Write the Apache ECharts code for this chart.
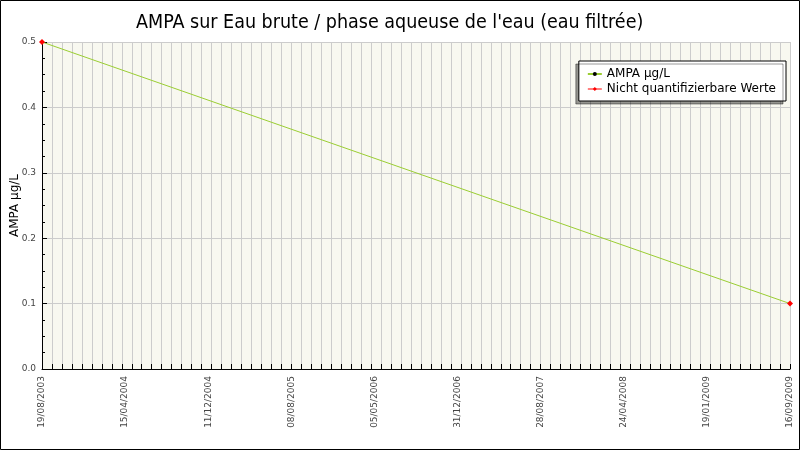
<!DOCTYPE html>
<html>
<head>
<meta charset="utf-8">
<script src="https://cdn.jsdelivr.net/npm/echarts@6/dist/echarts.min.js"></script>
<style>
html,body{margin:0;padding:0;background:#fff;}
#chart{width:800px;height:450px;}
</style>
</head>
<body>
<div id="chart"></div>
<script>
// ---- data ----
const titleText = "AMPA sur Eau brute / phase aqueuse de l'eau (eau filtrée)";
const yAxisName = "AMPA µg/L";
const seriesNames = ["AMPA µg/L", "Nicht quantifizierbare Werte"];
const sampleDates = ["2003-08-19", "2009-09-16"];
const ampaValues = [0.5, 0.1];
const nonQuantDates = ["2003-08-19", "2009-09-16"];
const nonQuantValues = [0.5, 0.1];
const xTickLabels = ["19/08/2003","15/04/2004","11/12/2004","08/08/2005","05/05/2006","31/12/2006","28/08/2007","24/04/2008","19/01/2009","16/09/2009"];
const yTicks = [0, 0.1, 0.2, 0.3, 0.4, 0.5];

// ---- build ----
const DAY = 86400000;
const t0 = Date.parse(sampleDates[0] + "T00:00:00Z");
const toDay = d => Math.round((Date.parse(d + "T00:00:00Z") - t0) / DAY);
const spanDays = toDay(sampleDates[sampleDates.length - 1]);
const labelStep = spanDays / (xTickLabels.length - 1);
const minorStep = spanDays / 75;

const ampaData = sampleDates.map((d, i) => [toDay(d), ampaValues[i]]);
const nqData = nonQuantDates.map((d, i) => [toDay(d), nonQuantValues[i]]);

const font = "DejaVu Sans";
const chart = echarts.init(document.getElementById('chart'));
chart.setOption({
  animation: false,
  backgroundColor: '#ffffff',
  title: {
    text: titleText, left: 131, top: 8,
    textStyle: { fontFamily: "DejaVu Sans Condensed", fontSize: 19.5, fontWeight: 'normal', color: '#000' }
  },
  legend: {
    orient: 'vertical', right: 14, top: 61,
    backgroundColor: '#ffffff', borderColor: '#000', borderWidth: 1,
    shadowColor: 'rgba(0,0,0,0.4)', shadowOffsetX: -3, shadowOffsetY: 3, shadowBlur: 0,
    padding: [7, 10, 6, 8], itemGap: 3, itemWidth: 14, itemHeight: 5,
    textStyle: { fontFamily: font, fontSize: 12, color: '#000' },
    data: [
      { name: seriesNames[0] },
      { name: seriesNames[1], lineStyle: { color: '#ff0000', opacity: 1, width: 1 } }
    ]
  },
  grid: {
    left: 42, right: 10, top: 42, bottom: 81,
    containLabel: false, outerBoundsMode: 'none',
    show: true, backgroundColor: '#f8f8f0', borderWidth: 0
  },
  xAxis: [
    {
      type: 'value', min: 0, max: spanDays, interval: labelStep,
      axisLine: { show: true, lineStyle: { color: '#000' } },
      axisTick: { show: false },
      splitLine: { show: false },
      axisLabel: {
        rotate: 90, fontFamily: font, fontSize: 9, color: '#444', margin: 7,
        formatter: v => { const i = Math.round(v / labelStep); return xTickLabels[i] || ''; }
      }
    },
    {
      type: 'value', min: 0, max: spanDays, interval: minorStep, position: 'bottom',
      axisLine: { show: false },
      axisTick: { show: true, inside: true, length: 5, lineStyle: { color: '#000' } },
      splitLine: { show: true, lineStyle: { color: '#cccccc', width: 1 } },
      axisLabel: { show: false }
    }
  ],
  yAxis: {
    type: 'value', min: yTicks[0], max: yTicks[yTicks.length - 1], interval: 0.1,
    name: yAxisName, nameLocation: 'middle', nameGap: 21, nameMoveOverlap: false,
    nameTextStyle: { fontFamily: font, fontSize: 12, color: '#000' },
    axisLine: { show: true, lineStyle: { color: '#000' } },
    axisTick: { show: true, inside: true, length: 5, lineStyle: { color: '#000' } },
    minorTick: { show: true, splitNumber: 4, length: 3, lineStyle: { color: '#000' } },
    splitLine: { show: true, lineStyle: { color: '#cccccc' } },
    axisLabel: { fontFamily: font, fontSize: 9, color: '#444', margin: 6, formatter: v => v.toFixed(1) }
  },
  series: [
    {
      name: seriesNames[0], type: 'line', data: ampaData,
      lineStyle: { color: '#9acd32', width: 1 },
      itemStyle: { color: '#000' },
      symbol: 'circle', symbolSize: 2, showSymbol: true
    },
    {
      name: seriesNames[1], type: 'line', data: nqData,
      lineStyle: { color: '#ff0000', opacity: 0, width: 1 },
      itemStyle: { color: '#ff0000' },
      symbol: 'diamond', symbolSize: 6, showSymbol: true, z: 5
    }
  ],
  graphic: [{
    type: 'rect', silent: true, z: 100,
    shape: { x: 0.5, y: 0.5, width: 799, height: 449 },
    style: { fill: 'none', stroke: '#000', lineWidth: 1 }
  }]
});
</script>
</body>
</html>
